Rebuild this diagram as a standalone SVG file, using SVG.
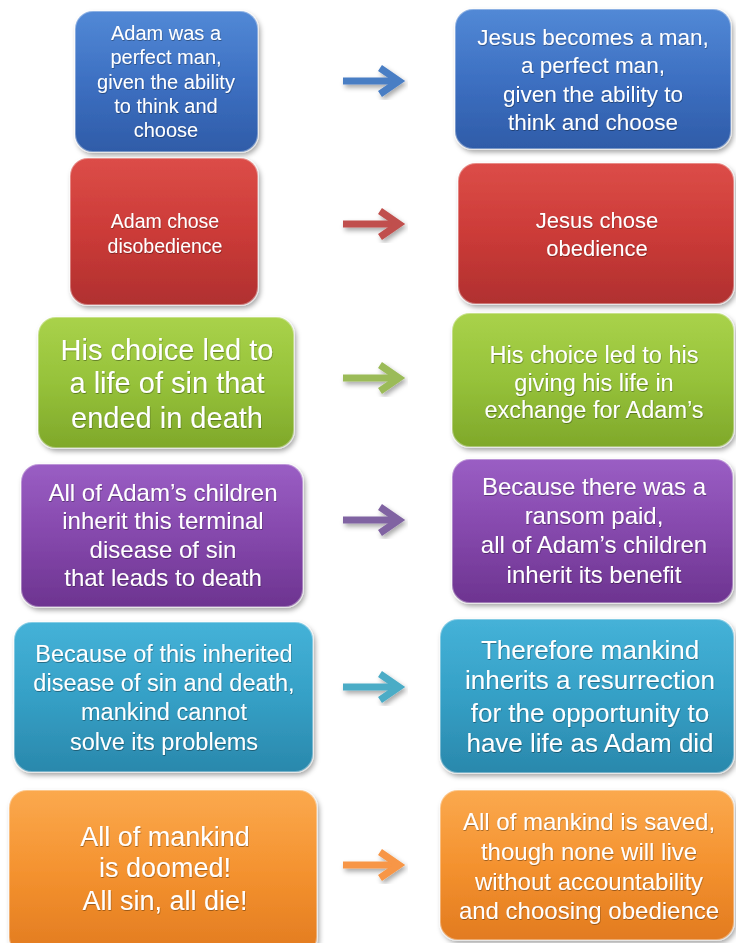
<svg xmlns="http://www.w3.org/2000/svg" width="736" height="943" viewBox="0 0 736 943">
<defs>
<linearGradient id="gBlue" x1="0" y1="0" x2="0" y2="1"><stop offset="0" stop-color="#5289d6"/><stop offset="0.5" stop-color="#3d70c2"/><stop offset="1" stop-color="#2f5ca8"/></linearGradient>
<linearGradient id="gRed" x1="0" y1="0" x2="0" y2="1"><stop offset="0" stop-color="#dc4d48"/><stop offset="0.5" stop-color="#cc3b38"/><stop offset="1" stop-color="#b0302f"/></linearGradient>
<linearGradient id="gGreen" x1="0" y1="0" x2="0" y2="1"><stop offset="0" stop-color="#a9d24a"/><stop offset="0.5" stop-color="#96c23a"/><stop offset="1" stop-color="#7fa82a"/></linearGradient>
<linearGradient id="gPurple" x1="0" y1="0" x2="0" y2="1"><stop offset="0" stop-color="#9a5ec4"/><stop offset="0.5" stop-color="#8548ac"/><stop offset="1" stop-color="#6d3490"/></linearGradient>
<linearGradient id="gCyan" x1="0" y1="0" x2="0" y2="1"><stop offset="0" stop-color="#45b2d8"/><stop offset="0.5" stop-color="#35a0c6"/><stop offset="1" stop-color="#2a88ac"/></linearGradient>
<linearGradient id="gOrange" x1="0" y1="0" x2="0" y2="1"><stop offset="0" stop-color="#fba94e"/><stop offset="0.5" stop-color="#f4922f"/><stop offset="1" stop-color="#e27b20"/></linearGradient>
<filter id="sh" x="-10%" y="-10%" width="125%" height="130%"><feDropShadow dx="2" dy="3" stdDeviation="2.5" flood-color="#000" flood-opacity="0.35"/></filter>
<filter id="tsh" x="-5%" y="-5%" width="110%" height="120%"><feDropShadow dx="0.5" dy="1" stdDeviation="0.6" flood-color="#000" flood-opacity="0.35"/></filter>
</defs>
<style>
.box{stroke:#ffffff;stroke-opacity:0.35;stroke-width:2;filter:url(#sh)}
.t{font-family:"Liberation Sans",Arial,sans-serif;fill:#ffffff;text-anchor:middle;filter:url(#tsh)}
.arr{fill:none;stroke-width:7;stroke-linejoin:miter;stroke-linecap:butt;filter:url(#sh)}
</style>
<rect width="736" height="943" fill="#ffffff"/>

<g id="connectors">
<g class="arr" stroke="#4a7ec4"><path d="M343,81 H398"/><path d="M380,68 L399,81 L380,94"/></g>
<g class="arr" stroke="#c0504d"><path d="M343,224 H398"/><path d="M380,211 L399,224 L380,237"/></g>
<g class="arr" stroke="#9bbb59"><path d="M343,378 H398"/><path d="M380,365 L399,378 L380,391"/></g>
<g class="arr" stroke="#8064a2"><path d="M343,520 H398"/><path d="M380,507 L399,520 L380,533"/></g>
<g class="arr" stroke="#4bacc6"><path d="M343,687 H398"/><path d="M380,674 L399,687 L380,700"/></g>
<g class="arr" stroke="#f79646"><path d="M343,865 H398"/><path d="M380,852 L399,865 L380,878"/></g>
</g>

<g id="n1l"><rect class="box" x="75" y="11" width="183" height="141" rx="18" fill="url(#gBlue)"/>
<text class="t" font-size="20" x="166"><tspan x="166" y="40">Adam was a</tspan><tspan x="166" y="64">perfect man,</tspan><tspan x="166" y="89">given the ability</tspan><tspan x="166" y="113">to think and</tspan><tspan x="166" y="137">choose</tspan></text></g>

<g id="n1r"><rect class="box" x="455" y="9" width="276" height="140" rx="18" fill="url(#gBlue)"/>
<text class="t" font-size="22.5"><tspan x="593" y="45">Jesus becomes a man,</tspan><tspan x="593" y="73">a perfect man,</tspan><tspan x="593" y="102">given the ability to</tspan><tspan x="593" y="130">think and choose</tspan></text></g>

<g id="n2l"><rect class="box" x="70" y="158" width="188" height="147" rx="18" fill="url(#gRed)"/>
<text class="t" font-size="19.5"><tspan x="165" y="228">Adam chose</tspan><tspan x="165" y="253">disobedience</tspan></text></g>

<g id="n2r"><rect class="box" x="458" y="163" width="276" height="141" rx="18" fill="url(#gRed)"/>
<text class="t" font-size="22"><tspan x="597" y="228">Jesus chose</tspan><tspan x="597" y="256">obedience</tspan></text></g>

<g id="n3l"><rect class="box" x="38" y="317" width="256" height="131" rx="18" fill="url(#gGreen)"/>
<text class="t" font-size="29"><tspan x="167" y="360">His choice led to</tspan><tspan x="167" y="393">a life of sin that</tspan><tspan x="167" y="428">ended in death</tspan></text></g>

<g id="n3r"><rect class="box" x="452" y="313" width="282" height="134" rx="18" fill="url(#gGreen)"/>
<text class="t" font-size="23.5"><tspan x="594" y="363">His choice led to his</tspan><tspan x="594" y="391">giving his life in</tspan><tspan x="594" y="418">exchange for Adam’s</tspan></text></g>

<g id="n4l"><rect class="box" x="21" y="464" width="282" height="143" rx="18" fill="url(#gPurple)"/>
<text class="t" font-size="24"><tspan x="163" y="501">All of Adam’s children</tspan><tspan x="163" y="529">inherit this terminal</tspan><tspan x="163" y="558">disease of sin</tspan><tspan x="163" y="586">that leads to death</tspan></text></g>

<g id="n4r"><rect class="box" x="452" y="459" width="281" height="144" rx="18" fill="url(#gPurple)"/>
<text class="t" font-size="24"><tspan x="594" y="495">Because there was a</tspan><tspan x="594" y="524">ransom paid,</tspan><tspan x="594" y="553">all of Adam’s children</tspan><tspan x="594" y="583">inherit its benefit</tspan></text></g>

<g id="n5l"><rect class="box" x="14" y="622" width="299" height="150" rx="18" fill="url(#gCyan)"/>
<text class="t" font-size="23.5"><tspan x="164" y="662">Because of this inherited</tspan><tspan x="164" y="691">disease of sin and death,</tspan><tspan x="164" y="720">mankind cannot</tspan><tspan x="164" y="750">solve its problems</tspan></text></g>

<g id="n5r"><rect class="box" x="440" y="619" width="294" height="154" rx="18" fill="url(#gCyan)"/>
<text class="t" font-size="26"><tspan x="590" y="659">Therefore mankind</tspan><tspan x="590" y="689">inherits a resurrection</tspan><tspan x="590" y="722">for the opportunity to</tspan><tspan x="590" y="752">have life as Adam did</tspan></text></g>

<g id="n6l"><rect class="box" x="9" y="790" width="308" height="165" rx="18" fill="url(#gOrange)"/>
<text class="t" font-size="27"><tspan x="165" y="846">All of mankind</tspan><tspan x="165" y="877">is doomed!</tspan><tspan x="165" y="910">All sin, all die!</tspan></text></g>

<g id="n6r"><rect class="box" x="440" y="790" width="294" height="150" rx="18" fill="url(#gOrange)"/>
<text class="t" font-size="24"><tspan x="589" y="830">All of mankind is saved,</tspan><tspan x="589" y="860">though none will live</tspan><tspan x="589" y="890">without accountability</tspan><tspan x="589" y="919">and choosing obedience</tspan></text></g>
</svg>
